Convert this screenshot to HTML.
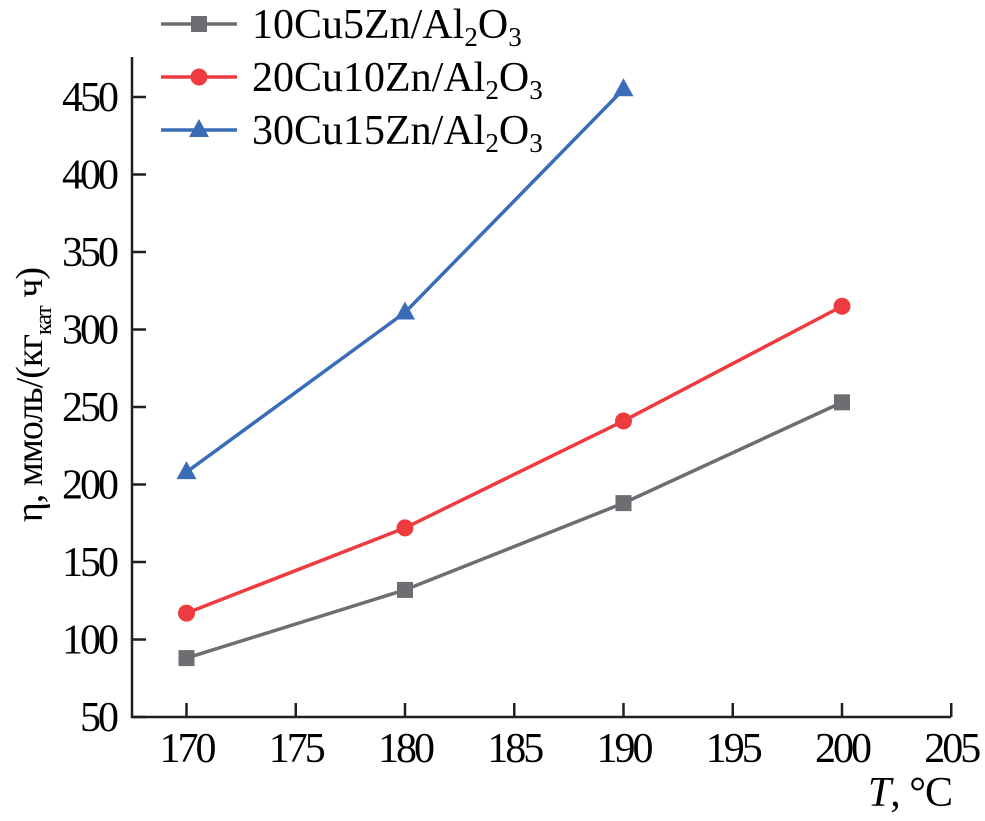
<!DOCTYPE html>
<html><head><meta charset="utf-8"><style>
body{margin:0;background:#fff}
svg{font-family:"Liberation Serif",serif}
</style></head><body>
<svg width="985" height="816" viewBox="0 0 985 816">
<g id="axes"></g>
<g id="series"></g>
<g id="legend"></g>
<text x="952" y="806" font-size="42" text-anchor="end" letter-spacing="-1"><tspan font-style="italic">T</tspan>, °C</text>
<text transform="translate(42,395) rotate(-90)" font-size="38" text-anchor="middle" letter-spacing="-1">η, ммоль/(кг<tspan font-size="24" dy="9">кат</tspan><tspan dy="-9"> ч)</tspan></text>
</svg>
<script>
const xCats=[170,180,190,200];
const s1=[88,132,188,253];
const s2=[117,172,241,315];
const s3=[208,311,455];
const xTicks=[170,175,180,185,190,195,200,205];
const yTicks=[50,100,150,200,250,300,350,400,450];
const names=["10Cu5Zn/Al","20Cu10Zn/Al","30Cu15Zn/Al"];
const colors=["#6d6e71","#ee3b3f","#3a6cb8"];
const NS="http://www.w3.org/2000/svg";
const X=v=>186.5+(v-170)*21.85;
const Y=v=>717-(v-50)*1.55;
function mk(t,a,p){const e=document.createElementNS(NS,t);for(const k in a)e.setAttribute(k,a[k]);p.appendChild(e);return e;}
const ax=document.getElementById('axes');
let l=mk('path',{d:`M132,57 L132,717 L951,717`,fill:'none',stroke:'#231f20','stroke-width':2.5},ax);


xTicks.forEach(v=>{
 let t=mk('line',{x1:X(v),x2:X(v),y1:717,y2:703,stroke:'#231f20','stroke-width':2.5},ax);
 
 
 let tx=mk('text',{x:X(v),y:762,'font-size':42,'text-anchor':'middle','letter-spacing':'-3'},ax);
 tx.textContent=v;
 
 
});
yTicks.forEach(v=>{
 let t=mk('line',{x1:132,x2:146,y1:Y(v),y2:Y(v),stroke:'#231f20','stroke-width':2.5},ax);
 
 
 let tx=mk('text',{x:116,y:Y(v)+14,'font-size':42,'text-anchor':'end','letter-spacing':'-3'},ax);
 tx.textContent=v;
 
 
});
const sg=document.getElementById('series');
function marker(type,x,y,c,g){
 let m;
 if(type===0)m=mk('rect',{x:x-8,y:y-8,width:16,height:16,fill:c},g);
 else if(type===1)m=mk('circle',{cx:x,cy:y,r:8.5,fill:c},g);
 else m=mk('polygon',{points:`${x},${y-11} ${x+10},${y+7} ${x-10},${y+7}`,fill:c},g);
 
 
}
[s1,s2,s3].forEach((s,i)=>{
 const pts=s.map((v,j)=>[X(xCats[j]),Y(v)]);
 let p=mk('polyline',{points:pts.map(q=>q.join(',')).join(' '),fill:'none',stroke:colors[i],'stroke-width':3.5},sg);
 
 
 pts.forEach(q=>marker(i,q[0],q[1],colors[i],sg));
});
const lg=document.getElementById('legend');
[24,77,130].forEach((y,i)=>{
 let ln=mk('line',{x1:161,x2:237,y1:y,y2:y,stroke:colors[i],'stroke-width':3.5},lg);
 
 
 marker(i,199,y,colors[i],lg);
 let t=mk('text',{x:252,y:y+14,'font-size':42,'letter-spacing':'0'},lg);
 
 
 t.innerHTML=names[i]+'<tspan font-size="27" dy="8">2</tspan><tspan dy="-8">O</tspan><tspan font-size="27" dy="8">3</tspan>';
});
</script>
</body></html>
